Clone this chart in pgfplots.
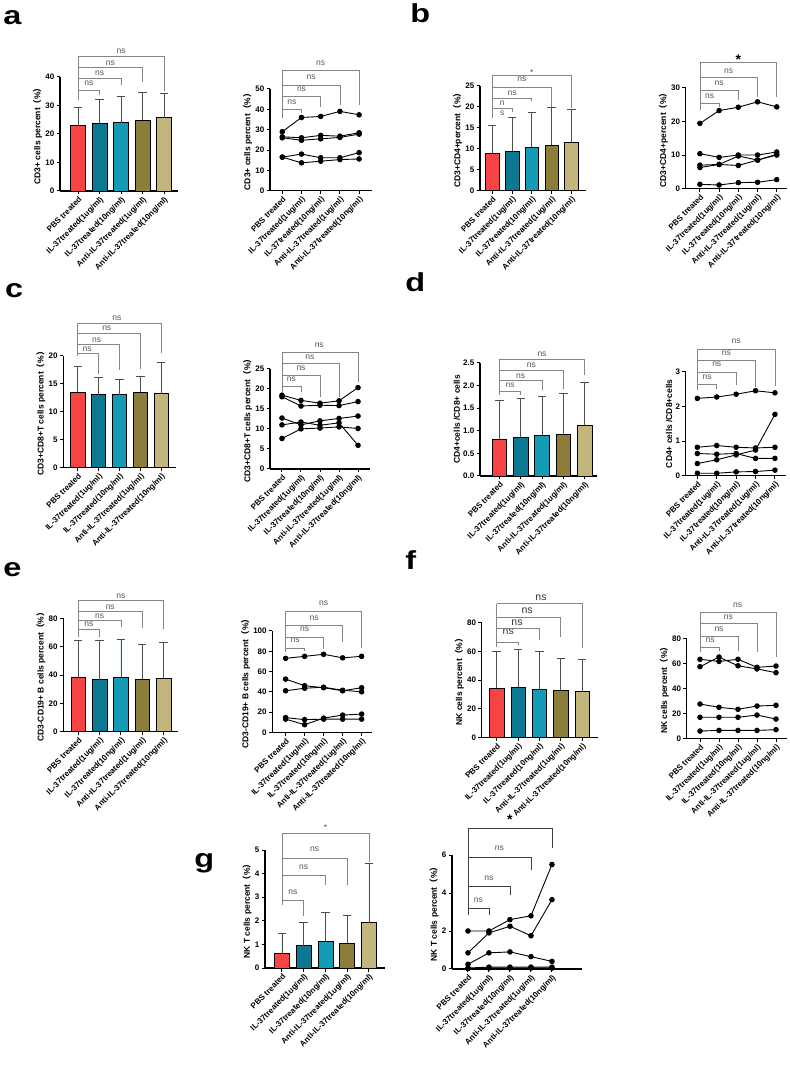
\documentclass[border=0pt]{standalone}
\usepackage{fontspec}
\setmainfont{Liberation Sans}
\newfontfamily\cjk{Noto Sans CJK SC}
\usepackage{pgfplots}
\pgfplotsset{compat=1.18}

\definecolor{cRed}{HTML}{F64343}
\definecolor{cTealD}{HTML}{0C7892}
\definecolor{cTealL}{HTML}{149CB6}
\definecolor{cOlive}{HTML}{8C7D3B}
\definecolor{cKhaki}{HTML}{C2B67C}
\definecolor{errc}{HTML}{4D4D4D}
\definecolor{brkc}{HTML}{858585}
\definecolor{nsc}{HTML}{555555}

\newcommand{\ticklab}{\bfseries\fontsize{8}{9}\selectfont}
\newcommand{\labfont}{\bfseries\fontsize{8.5}{10}\selectfont}
\newcommand{\nsfont}{\fontsize{8.5}{10}\selectfont}
\newcommand{\pct}{{\cjk （}\%{\cjk ）}}
\newcommand{\panelletter}[3]{\node[font=\bfseries\fontsize{26}{26}\selectfont, anchor=base west, inner sep=0pt, xscale=1.25] at (#1pt,#2pt) {#3};}

% significance brackets (axis coordinates)
\newcommand{\lleg}[2]{\draw[brk] (axis cs:0,#1) -- (axis cs:0,#2);}
\newcommand{\brk}[3]{\draw[brk] (axis cs:0,#2) -- (axis cs:#1,#2) -- (axis cs:#1,#3);}
\newcommand{\lab}[3]{\node[brklab] at (axis cs:#1,#2) {#3};}
\newcommand{\bigstar}[2]{\node[font=\bfseries\fontsize{14}{14}\selectfont, anchor=mid, inner sep=0pt, yshift=-4pt] at (axis cs:#1,#2) {*};}
\newcommand{\smallstar}[2]{\node[font=\nsfont, text=nsc, anchor=mid, inner sep=0pt, yshift=-2.5pt] at (axis cs:#1,#2) {*};}

\tikzset{
  brk/.style={draw=brkc, line width=0.8pt},
  brklab/.style={font=\nsfont, text=nsc, anchor=mid, inner sep=0pt},
}

\pgfplotsset{
  panel/.style={
    scale only axis, clip=false,
    axis x line=bottom, axis y line=left,
    axis line style={-, line width=1.1pt},
    every tick/.style={black, line width=1pt},
    major tick length=3.5pt, tick align=outside,
    ymin=0, scaled y ticks=false, anchor=south west,
    xtick={0,1,2,3,4},
    xticklabels={PBS treated, IL-37treated(1ug/ml), IL-37treated(10ng/ml), Anti-IL-37treated(1ug/ml), Anti-IL-37treated(10ng/ml)},
    xticklabel style={rotate=45, anchor=north east, font=\ticklab, inner sep=1pt},
    yticklabel style={font=\ticklab, inner sep=2pt},
    ylabel style={font=\labfont, inner sep=1pt},
    /pgf/number format/assume math mode=true,
  },
  catbar/.style={ybar, bar width=0.68, bar shift=0pt, fill=#1, draw=black, line width=0.6pt,
    error bars/y dir=plus, error bars/y explicit,
    error bars/error bar style={line width=0.8pt, draw=errc},
    error bars/error mark options={rotate=90, mark size=4.2pt, line width=0.8pt, draw=errc}},
  pt/.style={black, line width=0.9pt, mark=*, mark size=2.3pt, mark options={solid, fill=black}},
}

\begin{document}
\begin{tikzpicture}[x=1pt,y=1pt]
\useasboundingbox (0,0) rectangle (790,1088);

\panelletter{3}{1063}{a}
\panelletter{410}{1065}{b}
\panelletter{5}{790}{c}
\panelletter{405}{796}{d}
\panelletter{3}{511}{e}
\panelletter{405}{518}{f}
\panelletter{194}{220}{g}

% ---------- a : CD3+ ----------
\begin{axis}[panel, at={(60pt,897pt)}, width=118pt, height=114pt,
  xmin=-0.84, xmax=4.65, ymax=40, ytick={0,10,20,30,40},
  ylabel={CD3+ cells percent\pct}]
\addplot[catbar=cRed]   coordinates {(0,23.0) +- (0,6.2)};
\addplot[catbar=cTealD] coordinates {(1,23.7) +- (0,8.6)};
\addplot[catbar=cTealL] coordinates {(2,24.0) +- (0,9.1)};
\addplot[catbar=cOlive] coordinates {(3,24.8) +- (0,9.8)};
\addplot[catbar=cKhaki] coordinates {(4,25.7) +- (0,8.7)};
\lleg{31.9}{47.4}
\brk{1}{35.4}{33.7} \lab{0.5}{37.8}{ns}
\brk{2}{39.6}{37.2} \lab{1}{41.5}{ns}
\brk{3}{43.5}{38.4} \lab{1.5}{45.0}{ns}
\brk{4}{47.4}{35.1} \lab{2}{49.1}{ns}
\end{axis}

\begin{axis}[panel, at={(270pt,897.3pt)}, width=101.8pt, height=101.7pt,
  xmin=-0.64, xmax=4.66, ymax=50, ytick={0,10,20,30,40,50},
  ylabel={CD3+ cells percent\pct}]
\addplot[pt] coordinates {(0,29.0) (1,36.0) (2,36.5) (3,39.0) (4,37.3)};
\addplot[pt] coordinates {(0,26.5) (1,26.0) (2,27.2) (3,26.8) (4,28.5)};
\addplot[pt] coordinates {(0,26.0) (1,24.8) (2,25.5) (3,26.2) (4,27.8)};
\addplot[pt] coordinates {(0,16.5) (1,18.0) (2,16.2) (3,16.2) (4,18.7)};
\addplot[pt] coordinates {(0,16.5) (1,13.7) (2,14.5) (3,15.3) (4,15.6)};
\lleg{35.6}{59.2}
\brk{1}{40.0}{38.4} \lab{0.5}{43.6}{ns}
\brk{2}{46.4}{41.0} \lab{1}{50.2}{ns}
\brk{3}{51.8}{42.1} \lab{1.5}{55.8}{ns}
\brk{4}{59.2}{42.1} \lab{2}{62.9}{ns}
\end{axis}

% ---------- b : CD3+CD4+ ----------
\begin{axis}[panel, at={(480pt,897.3pt)}, width=105.7pt, height=104.7pt,
  xmin=-0.62, xmax=4.72, ymax=25, ytick={0,5,10,15,20,25},
  ylabel={CD3+CD4+percent\pct}]
\addplot[catbar=cRed]   coordinates {(0,8.9) +- (0,6.6)};
\addplot[catbar=cTealD] coordinates {(1,9.5) +- (0,8.0)};
\addplot[catbar=cTealL] coordinates {(2,10.4) +- (0,8.4)};
\addplot[catbar=cOlive] coordinates {(3,10.9) +- (0,8.9)};
\addplot[catbar=cKhaki] coordinates {(4,11.6) +- (0,7.8)};
\lleg{17.3}{27.5}
\brk{1}{19.6}{18.8} \lab{0.5}{20.9}{n} \lab{0.5}{18.5}{s}
\brk{2}{22.1}{21.3} \lab{1}{23.4}{ns}
\brk{3}{24.7}{20.1} \lab{1.5}{26.6}{ns}
\brk{4}{27.5}{19.7} \smallstar{2}{28.8}
\end{axis}

\begin{axis}[panel, at={(685.7pt,899.3pt)}, width=101.6pt, height=101pt,
  xmin=-0.74, xmax=4.55, ymax=30, ytick={0,10,20,30},
  ylabel={CD3+CD4+percent\pct}]
\addplot[pt] coordinates {(0,19.4) (1,23.2) (2,24.2) (3,25.8) (4,24.3)};
\addplot[pt] coordinates {(0,10.4) (1,9.3) (2,10.0) (3,10.0) (4,10.9)};
\addplot[pt] coordinates {(0,7.0) (1,7.2) (2,9.7) (3,8.5) (4,10.2)};
\addplot[pt] coordinates {(0,6.3) (1,7.2) (2,6.9) (3,8.5) (4,10.0)};
\addplot[pt] coordinates {(0,1.3) (1,1.1) (2,1.8) (3,1.9) (4,2.7)};
\lleg{23.4}{37.5}
\brk{1}{25.2}{24.2} \lab{0.5}{27.5}{ns}
\brk{2}{29.1}{26.3} \lab{1}{31.5}{ns}
\brk{3}{33.1}{27.1} \lab{1.5}{35.0}{ns}
\brk{4}{37.5}{27.1} \bigstar{2}{38.9}
\end{axis}

% ---------- c : CD3+CD8+T ----------
\begin{axis}[panel, at={(63.3pt,620.7pt)}, width=112.4pt, height=111.6pt,
  xmin=-0.69, xmax=4.69, ymax=20, ytick={0,5,10,15,20},
  ylabel={CD3+CD8+T cells percent\pct}]
\addplot[catbar=cRed]   coordinates {(0,13.5) +- (0,4.6)};
\addplot[catbar=cTealD] coordinates {(1,13.0) +- (0,3.1)};
\addplot[catbar=cTealL] coordinates {(2,13.0) +- (0,2.8)};
\addplot[catbar=cOlive] coordinates {(3,13.5) +- (0,2.7)};
\addplot[catbar=cKhaki] coordinates {(4,13.2) +- (0,5.6)};
\lleg{20.0}{25.8}
\brk{1}{20.4}{16.8} \lab{0.45}{21.3}{ns}
\brk{2}{22.0}{17.4} \lab{0.91}{22.8}{ns}
\brk{3}{24.0}{17.7} \lab{1.39}{24.9}{ns}
\brk{4}{25.8}{20.4} \lab{1.87}{26.8}{ns}
\end{axis}

\begin{axis}[panel, at={(270pt,619pt)}, width=100pt, height=100.3pt,
  xmin=-0.63, xmax=4.63, ymax=25, ytick={0,5,10,15,20,25},
  ylabel={CD3+CD8+T cells percent\pct}]
\addplot[pt] coordinates {(0,18.4) (1,17.1) (2,16.4) (3,17.0) (4,20.3)};
\addplot[pt] coordinates {(0,18.0) (1,15.7) (2,15.9) (3,15.8) (4,16.8)};
\addplot[pt] coordinates {(0,12.7) (1,11.0) (2,12.0) (3,12.6) (4,13.2)};
\addplot[pt] coordinates {(0,11.0) (1,11.7) (2,10.9) (3,11.5) (4,5.9)};
\addplot[pt] coordinates {(0,7.6) (1,10.0) (2,10.2) (3,10.5) (4,10.1)};
\lleg{19.3}{29.1}
\brk{1}{20.5}{19.3} \lab{0.5}{22.4}{ns}
\brk{2}{23.3}{18.0} \lab{1}{25.1}{ns}
\brk{3}{26.4}{18.0} \lab{1.47}{28.0}{ns}
\brk{4}{29.1}{21.8} \lab{1.96}{30.9}{ns}
\end{axis}

% ---------- d : CD4+/CD8+ ----------
\begin{axis}[panel, at={(480pt,612pt)}, width=117.2pt, height=113.3pt,
  xmin=-0.91, xmax=4.59, ymax=2.5, ytick={0,0.5,1,1.5,2,2.5},
  yticklabel style={/pgf/number format/.cd, fixed, fixed zerofill, precision=1},
  ylabel={CD4+cells /CD8+ cells}]
\addplot[catbar=cRed]   coordinates {(0,0.82) +- (0,0.84)};
\addplot[catbar=cTealD] coordinates {(1,0.86) +- (0,0.85)};
\addplot[catbar=cTealL] coordinates {(2,0.90) +- (0,0.86)};
\addplot[catbar=cOlive] coordinates {(3,0.92) +- (0,0.90)};
\addplot[catbar=cKhaki] coordinates {(4,1.12) +- (0,0.94)};
\lleg{1.79}{2.58}
\brk{1}{1.86}{1.79} \lab{0.5}{2.01}{ns}
\brk{2}{2.10}{1.90} \lab{1}{2.21}{ns}
\brk{3}{2.34}{1.93} \lab{1.5}{2.45}{ns}
\brk{4}{2.58}{2.23} \lab{2}{2.70}{ns}
\end{axis}

\begin{axis}[panel, at={(685.7pt,612.3pt)}, width=100.3pt, height=104pt,
  xmin=-0.6, xmax=4.57, ymax=3, ytick={0,1,2,3},
  ylabel={CD4+ cells /CD8+cells}]
\addplot[pt] coordinates {(0,2.23) (1,2.27) (2,2.35) (3,2.45) (4,2.39)};
\addplot[pt] coordinates {(0,0.82) (1,0.87) (2,0.82) (3,0.80) (4,0.82)};
\addplot[pt] coordinates {(0,0.64) (1,0.62) (2,0.64) (3,0.50) (4,0.50)};
\addplot[pt] coordinates {(0,0.35) (1,0.46) (2,0.60) (3,0.74) (4,1.77)};
\addplot[pt] coordinates {(0,0.07) (1,0.07) (2,0.11) (3,0.12) (4,0.16)};
\lleg{2.47}{3.65}
\brk{1}{2.62}{2.49} \lab{0.5}{2.86}{ns}
\brk{2}{2.97}{2.62} \lab{1}{3.22}{ns}
\brk{3}{3.32}{2.57} \lab{1.5}{3.55}{ns}
\brk{4}{3.65}{2.59} \lab{2}{3.89}{ns}
\end{axis}

% ---------- e : CD3-CD19+ B ----------
\begin{axis}[panel, at={(63.3pt,356.3pt)}, width=114.6pt, height=113.4pt,
  xmin=-0.70, xmax=4.67, ymax=80, ytick={0,20,40,60,80},
  ylabel={CD3-CD19+ B cells percent\pct}]
\addplot[catbar=cRed]   coordinates {(0,38.5) +- (0,26.0)};
\addplot[catbar=cTealD] coordinates {(1,36.8) +- (0,27.7)};
\addplot[catbar=cTealL] coordinates {(2,38.5) +- (0,26.5)};
\addplot[catbar=cOlive] coordinates {(3,37.0) +- (0,24.5)};
\addplot[catbar=cKhaki] coordinates {(4,37.7) +- (0,25.1)};
\lleg{67.1}{92.5}
\brk{1}{72.5}{67.1} \lab{0.5}{75.8}{ns}
\brk{2}{78.4}{74.1} \lab{1}{81.9}{ns}
\brk{3}{85.2}{73.0} \lab{1.5}{88.3}{ns}
\brk{4}{92.5}{72.5} \lab{2}{96.0}{ns}
\end{axis}

\begin{axis}[panel, at={(272.3pt,355.7pt)}, width=99.4pt, height=101.3pt,
  xmin=-0.70, xmax=4.53, ymax=100, ytick={0,20,40,60,80,100},
  ylabel={CD3-CD19+ B cells percent\pct}]
\addplot[pt] coordinates {(0,73.0) (1,75.0) (2,77.0) (3,73.5) (4,75.0)};
\addplot[pt] coordinates {(0,52.5) (1,46.0) (2,44.0) (3,41.0) (4,44.0)};
\addplot[pt] coordinates {(0,41.0) (1,43.5) (2,44.5) (3,41.5) (4,40.0)};
\addplot[pt] coordinates {(0,14.5) (1,12.5) (2,13.0) (3,13.0) (4,13.0)};
\addplot[pt] coordinates {(0,13.0) (1,7.5) (2,14.0) (3,17.0) (4,18.0)};
\lleg{79.6}{119.7}
\brk{1}{82.9}{80.2} \lab{0.5}{90.8}{ns}
\brk{2}{94.1}{82.0} \lab{1}{101.7}{ns}
\brk{3}{105.2}{88.8} \lab{1.5}{112.5}{ns}
\brk{4}{119.7}{82.9} \lab{2}{127.3}{ns}
\end{axis}

% ---------- f : NK ----------
\begin{axis}[panel, at={(481.7pt,350.5pt)}, width=116.2pt, height=115pt,
  xmin=-0.70, xmax=4.73, ymax=80, ytick={0,20,40,60,80},
  ylabel={NK cells percent\pct}]
\addplot[catbar=cRed]   coordinates {(0,34.2) +- (0,25.5)};
\addplot[catbar=cTealD] coordinates {(1,35.0) +- (0,26.3)};
\addplot[catbar=cTealL] coordinates {(2,33.5) +- (0,26.2)};
\addplot[catbar=cOlive] coordinates {(3,32.8) +- (0,22.3)};
\addplot[catbar=cKhaki] coordinates {(4,32.0) +- (0,22.4)};
\tikzset{brklab/.append style={font=\fontsize{10.5}{12}\selectfont, text=black!80}}
\lleg{63.2}{93.1}
\brk{1}{66.2}{64.4} \lab{0.54}{73.6}{ns}
\brk{2}{76.0}{67.8} \lab{0.95}{80.1}{ns}
\brk{3}{83.3}{70.1} \lab{1.42}{88.0}{ns}
\brk{4}{93.1}{62.1} \lab{2.07}{97.3}{ns}
\end{axis}

\begin{axis}[panel, at={(686.7pt,349.7pt)}, width=100.7pt, height=100pt,
  xmin=-0.70, xmax=4.6, ymax=80, ytick={0,20,40,60,80},
  ylabel={NK cells percent\pct}]
\addplot[pt] coordinates {(0,63.2) (1,61.5) (2,63.2) (3,56.8) (4,57.8)};
\addplot[pt] coordinates {(0,57.3) (1,65.0) (2,58.0) (3,55.5) (4,52.5)};
\addplot[pt] coordinates {(0,27.4) (1,24.8) (2,23.2) (3,25.8) (4,26.4)};
\addplot[pt] coordinates {(0,16.8) (1,16.8) (2,16.8) (3,18.6) (4,15.4)};
\addplot[pt] coordinates {(0,5.8) (1,6.3) (2,6.3) (3,6.3) (4,6.9)};
\lleg{69.3}{100.8}
\brk{1}{72.8}{70.1} \lab{0.53}{78.6}{ns}
\brk{2}{81.8}{70.1} \lab{1}{87.4}{ns}
\brk{3}{91.7}{69.3} \lab{1.49}{96.8}{ns}
\brk{4}{100.8}{65.3} \lab{1.98}{106.6}{ns}
\end{axis}

% ---------- g : NK T ----------
\begin{axis}[panel, at={(265pt,120pt)}, width=120pt, height=118pt,
  xmin=-0.78, xmax=4.74, ymax=5, ytick={0,1,2,3,4,5},
  ylabel={NK T cells percent\pct}]
\addplot[catbar=cRed]   coordinates {(0,0.62) +- (0,0.83)};
\addplot[catbar=cTealD] coordinates {(1,0.95) +- (0,0.97)};
\addplot[catbar=cTealL] coordinates {(2,1.15) +- (0,1.22)};
\addplot[catbar=cOlive] coordinates {(3,1.05) +- (0,1.18)};
\addplot[catbar=cKhaki] coordinates {(4,1.92) +- (0,2.50)};
\lleg{2.67}{5.72}
\brk{1}{2.88}{2.2} \lab{0.5}{3.22}{ns}
\brk{2}{3.94}{3.5} \lab{1}{4.28}{ns}
\brk{3}{4.66}{3.5} \lab{1.5}{5.04}{ns}
\brk{4}{5.72}{4.5} \smallstar{2}{6.06}
\end{axis}

\begin{axis}[panel, at={(452pt,119pt)}, width=130pt, height=114pt,
  xmin=-0.76, xmax=5.43, ymax=6, ytick={0,2,4,6},
  ylabel={NK T cells percent\pct}]
\addplot[pt] coordinates {(0,2.0) (1,2.0) (2,2.6) (3,2.8) (4,5.5)};
\addplot[pt] coordinates {(0,0.85) (1,1.9) (2,2.25) (3,1.75) (4,3.65)};
\addplot[pt] coordinates {(0,0.25) (1,0.85) (2,0.9) (3,0.65) (4,0.4)};
\addplot[pt] coordinates {(0,0.05) (1,0.1) (2,0.1) (3,0.1) (4,0.1)};
\addplot[pt] coordinates {(0,0.02) (1,0.05) (2,0.05) (3,0.05) (4,0.05)};
\tikzset{brk/.append style={draw=black!75}}
\lleg{2.84}{7.42}
\brk{1}{3.21}{2.84} \lab{0.5}{3.63}{ns}
\brk{2}{4.37}{3.9} \lab{1}{4.79}{ns}
\brk{3}{5.89}{5.2} \lab{1.5}{6.37}{ns}
\brk{4}{7.42}{6.37} \bigstar{2}{7.95}
\end{axis}

\end{tikzpicture}
\end{document}
